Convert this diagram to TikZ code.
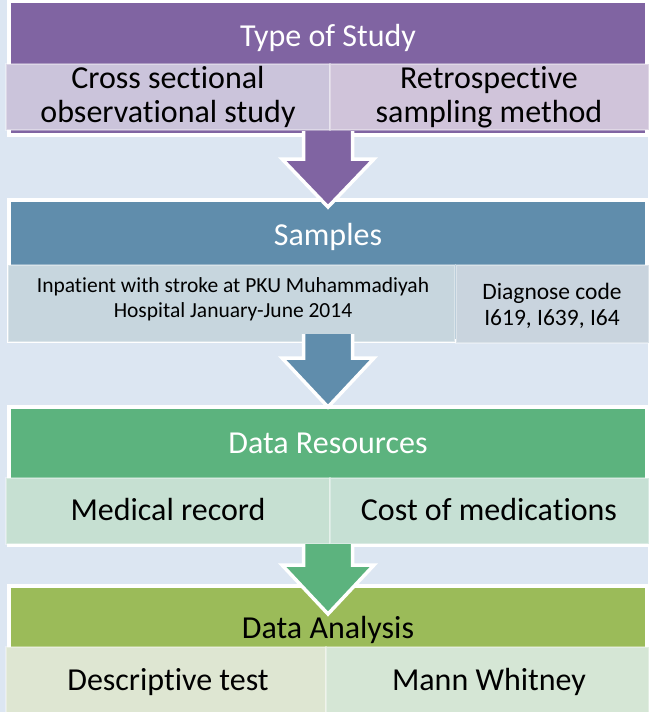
\documentclass[tikz,border=0pt]{standalone}
\usepackage{fontspec}
\setmainfont{Carlito}[Ligatures={NoCommon}]
\definecolor{bgc}{RGB}{220,230,242}
\definecolor{hpurple}{RGB}{128,100,162}
\definecolor{spurpleL}{RGB}{203,196,219}
\definecolor{spurpleR}{RGB}{208,196,218}
\definecolor{hblue}{RGB}{96,141,172}
\definecolor{sblueL}{RGB}{199,214,222}
\definecolor{sblueR}{RGB}{201,212,222}
\definecolor{hgreen}{RGB}{92,179,126}
\definecolor{sgreenL}{RGB}{198,224,210}
\definecolor{sgreenR}{RGB}{198,224,212}
\definecolor{holive}{RGB}{155,187,89}
\definecolor{soliveL}{RGB}{222,230,210}
\definecolor{soliveR}{RGB}{213,230,213}
\newcommand\blockarrow[4]{%
  \fill[#1] (303.5,#2) -- (303.5,#3) -- (282,#3) -- (328,#4) -- (374,#3) -- (352.5,#3) -- (352.5,#2) -- cycle;
  \draw[arrowline] (303.5,#2) -- (303.5,#3) -- (282,#3) -- (328,#4) -- (374,#3) -- (352.5,#3) -- (352.5,#2);}
\tikzset{
  frame/.style={draw=white, line width=4pt},
  subbox/.style={draw=white, draw opacity=0.35, line width=1.5pt},
  arrowline/.style={draw=white, line width=3.5pt, line join=miter},
  hdr/.style={font=\fontsize{32}{34}\selectfont, text=white, inner sep=0pt, anchor=base},
  subtxt/.style={font=\fontsize{32}{34}\selectfont, text=black, inner sep=0pt, align=center, anchor=base},
  smalltxt/.style={font=\fontsize{21.5}{25}\selectfont, text=black, inner sep=0pt, align=center, anchor=base},
  midtxt/.style={font=\fontsize{23.5}{26}\selectfont, text=black, inner sep=0pt, align=center, anchor=base}
}
\begin{document}
\begin{tikzpicture}[x=1pt,y=-1pt]
\fill[bgc] (0,0) rectangle (648,712);
\useasboundingbox (0,0) rectangle (648,712);
% Panel 1
\filldraw[frame, fill=hpurple] (9,1) rectangle (647,135);
\filldraw[subbox, fill=spurpleL] (6,64) rectangle (330,130);
\filldraw[subbox, fill=spurpleR] (330,64) rectangle (649,130);
% Panel 2
\filldraw[frame, fill=hblue] (9,199.5) rectangle (647,341);
\filldraw[subbox, fill=sblueL] (8,265) rectangle (455,342);
\filldraw[subbox, fill=sblueR] (456,265) rectangle (649,343);
% Panel 3
\filldraw[frame, fill=hgreen] (9,406.5) rectangle (647,545);
\filldraw[subbox, fill=sgreenL] (6,478) rectangle (330,544);
\filldraw[subbox, fill=sgreenR] (330,478) rectangle (649,544);
% Panel 4
\filldraw[frame, fill=holive] (9,586) rectangle (647,720);
\filldraw[subbox, fill=soliveL] (6,647) rectangle (326,716);
\filldraw[subbox, fill=soliveR] (326,647) rectangle (649,716);
% Arrows
\blockarrow{hpurple}{131}{159}{207}
\blockarrow{hblue}{334}{358}{407}
\blockarrow{hgreen}{544}{565}{614}
% Texts (base = last line baseline)
\node[hdr] (t1) at (328,46) {Type of Study};
\node[subtxt] (t1a) at (168,122) {Cross sectional\\observational study};
\node[subtxt] (t1b) at (489,122) {Retrospective\\sampling method};
\node[hdr] (t2) at (328,245) {Samples};
\node[smalltxt] (t2a) at (233,317) {Inpatient with stroke at PKU Muhammadiyah\\Hospital January-June 2014};
\node[midtxt] (t2b) at (552,325) {Diagnose code\\I619, I639, I64};
\node[hdr] (t3) at (328,453) {Data Resources};
\node[subtxt] (t3a) at (168,520) {Medical record};
\node[subtxt] (t3b) at (489,520) {Cost of medications};
\node[hdr, text=black] (t4) at (328,638) {Data Analysis};
\node[subtxt] (t4a) at (168,690) {Descriptive test};
\node[subtxt] (t4b) at (489,690) {Mann Whitney};
\end{tikzpicture}
\end{document}
